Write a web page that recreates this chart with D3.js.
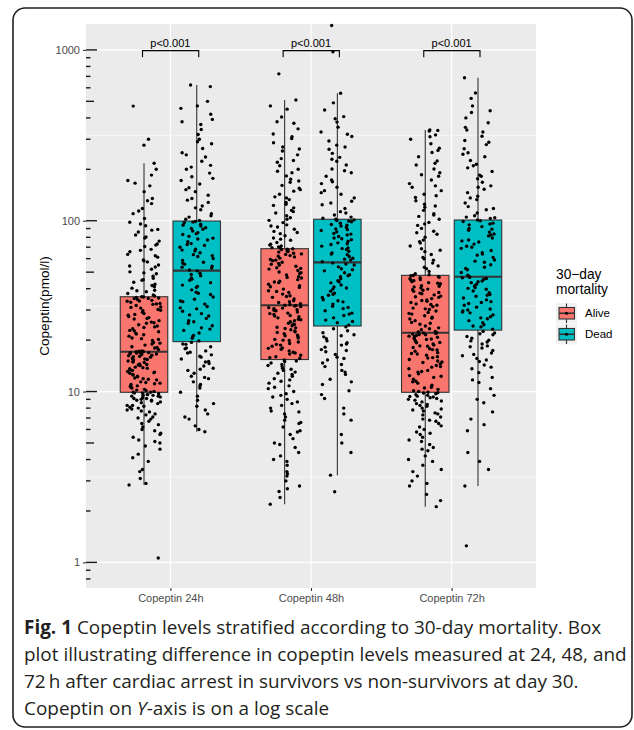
<!DOCTYPE html>
<html>
<head>
<meta charset="utf-8">
<script src="https://cdn.jsdelivr.net/npm/d3@7"></script>
<style>
  body { margin: 0; background: #fff; }
  svg { display: block; }
</style>
</head>
<body>
<svg id="chart" width="634" height="730"></svg>
<script>
const timepoints = ["Copeptin 24h", "Copeptin 48h", "Copeptin 72h"]
const groups = ["Alive", "Dead"]
const pLabels = ["p<0.001", "p<0.001", "p<0.001"]
const majorBreaks = [1, 10, 100, 1000]
const minorBreaks = [3.162, 31.62, 316.2]

// box stats (24h, 48h, 72h)
const aliveQ1 = [9.9, 15.4, 9.9]
const aliveMedian = [17.1, 32, 22.1]
const aliveQ3 = [35.9, 68.6, 47.9]
const aliveLow = [2.84, 2.19, 2.12]
const aliveHigh = [217, 509, 340]
const deadQ1 = [19.6, 24.2, 22.9]
const deadMedian = [51, 57, 47]
const deadQ3 = [99.6, 102, 101]
const deadLow = [5.82, 3.24, 2.8]
const deadHigh = [623, 558, 687]

// jittered observations, estimated from the dots
const alive24 = [1.06, 2.84, 2.9, 3.4, 3.5, 3.9, 4.1, 4.3, 4.8, 5.0, 5.1, 5.4, 5.7, 5.9, 6.0, 6.4, 6.5, 6.7, 7.0, 7.1, 7.3, 7.6, 7.7, 7.9, 8.0, 8.2, 8.3, 8.3, 8.6, 8.7, 8.8, 8.9, 9.0, 9.1, 9.1, 9.3, 9.4, 9.5, 9.5, 9.6, 9.7, 9.8, 9.8, 9.9,
  10.0, 10.2, 10.3, 10.5, 10.6, 10.8, 11.0, 11.1, 11.3, 11.4, 11.7, 11.9, 12.0, 12.2, 12.5, 12.6, 12.8, 13.0, 13.1, 13.4, 13.6, 13.7, 13.9, 14.2, 14.3, 14.5, 14.8, 14.9, 15.1, 15.3, 15.4, 15.6, 15.9, 16.0, 16.2, 16.3, 16.5, 16.7, 16.8, 16.9, 17.0, 17.1, 17.2, 17.3,
  17.6, 18.0, 18.3, 18.7, 19.0, 19.4, 19.9, 20.2, 20.6, 21.1, 21.5, 21.9, 22.4, 22.8, 23.3, 23.7, 24.2, 24.6, 25.1, 25.5, 26.0, 26.6, 27.1, 27.5, 28.0, 28.6, 29.1, 29.7, 30.2, 30.8, 31.3, 31.9, 32.4, 32.8, 33.3, 33.8, 34.2, 34.6, 35.0, 35.3, 35.6, 35.9, 36.3, 36.8,
  37.5, 38.4, 39.2, 40.3, 41.1, 42.5, 43.6, 44.8, 46.0, 47.3, 48.9, 50.2, 52.0, 53.6, 55.1, 57.4, 59.0, 61.2, 63.5, 65.8, 68.0, 70.6, 73.1, 76.0, 79.2, 82.5, 85.9, 89.0, 93.4, 98.0, 103, 110, 118, 126, 135, 148, 160, 172, 185, 200, 217, 277, 300, 469,
  3.1, 4.6, 5.2, 5.6, 6.2, 6.9, 7.4, 7.8, 8.1, 8.5, 8.9, 9.2, 9.4, 9.6, 9.9,
  10.1, 10.7, 11.2, 11.8, 12.3, 12.9, 13.3, 13.8, 14.4, 15.0, 15.5, 16.1, 16.6, 16.9, 17.1,
  18.1, 19.2, 20.4, 21.7, 22.6, 23.9, 25.3, 26.8, 28.3, 29.9, 31.1, 32.6, 33.9, 35.1, 35.8,
  38.9, 41.8, 45.2, 49.5, 54.3, 58.2, 62.4, 67.1, 72.0, 80.4, 88.1, 95.7, 114, 131, 166]
const dead24 = [5.82, 6.0, 6.3, 6.9, 7.4, 7.8, 8.2, 8.9, 9.4, 9.9, 10.5, 11.0, 11.4, 11.9, 12.3, 12.8, 13.3, 13.7, 14.1, 14.6, 15.0, 15.5, 15.9, 16.4, 16.8, 17.3, 17.8, 18.3, 18.9, 19.4,
  19.8, 20.5, 21.3, 22.0, 22.8, 23.6, 24.3, 25.1, 26.0, 26.8, 27.7, 28.6, 29.5, 30.5, 31.5, 32.5, 33.6, 34.7, 35.8, 37.0, 38.2, 39.4, 40.7, 42.0, 43.4, 44.8, 46.2, 47.7, 49.3, 50.9,
  51.5, 52.8, 54.2, 55.7, 57.1, 58.6, 60.1, 61.7, 63.3, 64.9, 66.5, 68.2, 70.0, 71.7, 73.5, 75.4, 77.2, 79.1, 81.0, 83.0, 85.0, 87.0, 89.1, 91.1, 93.2, 95.3, 97.4, 99.0, 100.5, 102,
  105, 110, 116, 122, 128, 135, 141, 148, 156, 164, 172, 181, 190, 200, 211, 223, 236, 250, 265, 282, 300, 320, 342, 366, 392, 420, 455, 500, 610, 623,
  7.1, 8.5, 10.8, 12.1, 13.5, 14.9, 16.1, 17.0, 18.0, 19.0,
  21.0, 23.2, 25.6, 28.1, 30.9, 33.9, 37.6, 41.3, 45.5, 48.5,
  53.5, 56.4, 62.5, 67.3, 72.6, 78.1, 84.0, 90.1, 94.2, 98.2,
  107, 119, 132, 152, 177, 206, 243, 290, 380, 470]
const alive48 = [2.19, 2.4, 2.6, 2.8, 3.0, 3.2, 3.4, 3.7, 3.9, 4.2, 4.4, 4.7, 5.0, 5.3, 5.6, 5.9, 6.2, 6.5, 6.8, 7.1, 7.4, 7.7, 8.0, 8.3, 8.7, 9.0, 9.3, 9.7, 10.0, 10.4, 10.8, 11.2, 11.5, 11.9, 12.3, 12.6, 13.0, 13.3, 13.7, 14.0, 14.4, 14.7, 15.0, 15.3,
  15.6, 16.0, 16.3, 16.6, 17.0, 17.3, 17.7, 18.0, 18.4, 18.7, 19.1, 19.5, 19.9, 20.2, 20.6, 21.0, 21.4, 21.8, 22.2, 22.6, 23.0, 23.4, 23.8, 24.3, 24.7, 25.1, 25.6, 26.0, 26.5, 27.0, 27.4, 27.9, 28.3, 28.8, 29.2, 29.7, 30.1, 30.6, 31.0, 31.4, 31.7, 32.0, 32.3, 32.7,
  33.2, 34.0, 34.8, 35.6, 36.4, 37.2, 38.0, 38.9, 39.8, 40.7, 41.6, 42.5, 43.4, 44.3, 45.2, 46.2, 47.1, 48.1, 49.1, 50.1, 51.1, 52.1, 53.1, 54.1, 55.1, 56.2, 57.2, 58.3, 59.3, 60.4, 61.4, 62.5, 63.5, 64.5, 65.5, 66.5, 67.4, 68.2, 68.9, 69.6, 70.3, 71.1, 72.0, 72.9,
  74.5, 76.8, 79.2, 81.6, 84.0, 86.6, 89.2, 91.9, 94.6, 97.5, 100.5, 104, 107, 111, 115, 119, 123, 128, 133, 138, 143, 149, 155, 161, 168, 175, 183, 191, 200, 210, 220, 231, 243, 256, 270, 286, 303, 322, 345, 372, 405, 450, 509, 724,
  2.7, 3.3, 4.0, 4.9, 5.8, 6.6, 7.6, 8.5, 9.5, 10.6, 11.7, 12.8, 13.5, 14.2, 15.1,
  15.8, 16.8, 17.9, 18.9, 20.0, 21.2, 22.4, 23.6, 24.9, 26.3, 27.7, 28.6, 29.9, 30.8, 31.9,
  33.6, 36.0, 38.5, 41.1, 43.8, 46.6, 49.6, 52.6, 55.6, 58.8, 61.9, 64.0, 66.0, 67.8, 68.5,
  78.0, 85.3, 93.2, 102, 113, 125, 136, 152, 171, 195, 225, 263, 310, 380, 470]
const dead48 = [2.59, 3.24, 4.4, 5.6, 6.8, 8.0, 9.1, 10.1, 11.0, 11.8, 12.6, 13.3, 14.0, 14.7, 15.3, 15.9, 16.5, 17.1, 17.6, 18.2, 18.7, 19.3, 19.8, 20.4, 20.9, 21.5, 22.1, 22.7, 23.3, 23.9,
  24.5, 25.3, 26.2, 27.0, 27.9, 28.8, 29.7, 30.6, 31.6, 32.5, 33.5, 34.5, 35.5, 36.6, 37.6, 38.7, 39.8, 41.0, 42.1, 43.3, 44.5, 45.8, 47.0, 48.3, 49.6, 50.9, 52.3, 53.7, 55.1, 56.5,
  57.5, 58.9, 60.3, 61.8, 63.3, 64.8, 66.3, 67.9, 69.4, 71.0, 72.6, 74.2, 75.9, 77.5, 79.2, 80.9, 82.6, 84.3, 86.1, 87.8, 89.6, 91.4, 93.2, 95.0, 96.8, 98.6, 100.3, 102, 103.5, 105,
  108, 113, 118, 124, 130, 136, 143, 150, 157, 165, 173, 182, 191, 201, 212, 223, 235, 248, 262, 277, 293, 311, 331, 353, 378, 407, 445, 558, 974, 1390,
  5.0, 7.4, 9.6, 11.4, 13.0, 14.4, 15.6, 17.4, 19.0, 21.2,
  25.7, 28.4, 31.1, 34.0, 37.1, 40.4, 43.9, 47.7, 51.6, 55.8,
  59.6, 63.9, 68.7, 73.4, 78.4, 83.5, 88.7, 94.1, 99.5, 101.2,
  111, 127, 146, 169, 196, 229, 270, 321, 395, 490]
const alive72 = [2.12, 2.5, 2.8, 3.0, 3.2, 3.5, 3.7, 4.0, 4.2, 4.5, 4.7, 4.9, 5.2, 5.4, 5.6, 5.8, 6.0, 6.2, 6.5, 6.7, 6.9, 7.1, 7.3, 7.5, 7.7, 7.9, 8.0, 8.2, 8.4, 8.5, 8.7, 8.8, 9.0, 9.1, 9.2, 9.3, 9.4, 9.5, 9.6, 9.7, 9.8, 9.9, 10.0, 10.1,
  10.3, 10.6, 10.9, 11.2, 11.5, 11.8, 12.1, 12.4, 12.7, 13.0, 13.3, 13.6, 13.9, 14.2, 14.5, 14.8, 15.1, 15.4, 15.7, 16.0, 16.3, 16.6, 16.9, 17.2, 17.5, 17.8, 18.1, 18.4, 18.7, 19.0, 19.3, 19.6, 19.9, 20.2, 20.5, 20.8, 21.1, 21.3, 21.5, 21.7, 21.9, 22.1, 22.3, 22.5,
  23.0, 23.6, 24.2, 24.8, 25.4, 26.0, 26.6, 27.2, 27.8, 28.4, 29.0, 29.6, 30.2, 30.8, 31.4, 32.0, 32.6, 33.2, 33.8, 34.4, 35.0, 35.6, 36.2, 36.8, 37.4, 38.0, 38.6, 39.2, 39.8, 40.4, 41.0, 41.6, 42.2, 42.8, 43.4, 44.0, 44.6, 45.2, 45.8, 46.4, 47.0, 47.6, 48.3, 49.0,
  50.5, 52.4, 54.4, 56.5, 58.7, 61.0, 63.4, 65.9, 68.5, 71.2, 74.0, 77.0, 80.1, 83.3, 86.7, 90.2, 93.9, 97.8, 102, 106, 110, 115, 120, 125, 131, 137, 143, 150, 157, 165, 173, 182, 191, 201, 212, 224, 237, 251, 266, 282, 300, 318, 335, 340,
  2.3, 2.9, 3.4, 3.9, 4.6, 5.1, 5.7, 6.3, 6.8, 7.4, 7.8, 8.3, 8.9, 9.35, 9.85,
  10.5, 11.4, 12.3, 13.1, 14.0, 14.9, 15.8, 16.7, 17.6, 18.5, 19.4, 20.3, 21.0, 21.6, 22.0,
  23.3, 25.1, 26.9, 28.7, 30.5, 32.3, 34.1, 35.9, 37.7, 39.5, 41.3, 43.1, 44.9, 46.7, 47.8,
  53.4, 59.8, 67.2, 75.5, 85.0, 95.8, 108, 122, 140, 160, 186, 217, 258, 310, 338]
const dead72 = [1.25, 2.8, 3.5, 4.4, 5.9, 6.4, 7.6, 8.6, 9.5, 10.4, 11.3, 12.1, 12.9, 13.6, 14.3, 15.0, 15.6, 16.2, 16.8, 17.4, 18.0, 18.5, 19.0, 19.5, 20.0, 20.5, 21.0, 21.5, 22.0, 22.5,
  23.2, 23.9, 24.6, 25.3, 26.0, 26.7, 27.4, 28.1, 28.9, 29.6, 30.4, 31.2, 32.0, 32.8, 33.6, 34.4, 35.3, 36.1, 37.0, 37.9, 38.8, 39.7, 40.6, 41.5, 42.5, 43.4, 44.4, 45.4, 46.3, 47.0,
  48.0, 49.8, 51.6, 53.4, 55.2, 57.1, 59.0, 60.9, 62.9, 64.9, 66.9, 68.9, 70.9, 73.0, 75.1, 77.2, 79.3, 81.5, 83.6, 85.8, 88.0, 90.2, 92.4, 94.6, 96.8, 99.0, 101, 103, 105, 107,
  111, 116, 121, 127, 133, 139, 146, 153, 160, 168, 176, 185, 194, 204, 214, 225, 237, 250, 264, 279, 295, 312, 331, 352, 375, 400, 430, 470, 520, 687,
  3.9, 6.9, 9.0, 11.7, 13.9, 15.3, 16.5, 18.3, 19.8, 21.8,
  24.2, 27.0, 29.2, 30.0, 33.2, 36.6, 40.2, 43.9, 45.9, 46.6,
  52.5, 58.0, 63.9, 69.9, 76.2, 82.5, 89.1, 95.7, 100, 104,
  118, 136, 157, 182, 210, 245, 288, 340, 440, 560]

const colors = { Alive: "#F8766D", Dead: "#00BFC4" }

const boxes = []
timepoints.forEach((t, i) => {
  boxes.push({ time: t, group: "Alive", q1: aliveQ1[i], med: aliveMedian[i], q3: aliveQ3[i], lo: aliveLow[i], hi: aliveHigh[i] })
  boxes.push({ time: t, group: "Dead", q1: deadQ1[i], med: deadMedian[i], q3: deadQ3[i], lo: deadLow[i], hi: deadHigh[i] })
})

const pointSets = [
  [timepoints[0], "Alive", alive24], [timepoints[0], "Dead", dead24],
  [timepoints[1], "Alive", alive48], [timepoints[1], "Dead", dead48],
  [timepoints[2], "Alive", alive72], [timepoints[2], "Dead", dead72]
]
// fixed pseudo jitter so the picture is the same each time
const jit = (i, k) => {
  const s = Math.sin((i + 1) * 12.9898 + k * 78.233) * 43758.5453
  return s - Math.floor(s) - 0.5
}
const points = []
pointSets.forEach(([t, g, vals], k) => {
  vals.forEach((v, i) => points.push({ time: t, group: g, value: v, j: jit(i, k) }))
})

const svg = d3.select("#chart")
const font = "'Liberation Sans', Arial, sans-serif"

// figure frame
svg.append("rect")
  .attr("x", 13).attr("y", 8)
  .attr("width", 619).attr("height", 719)
  .attr("rx", 12)
  .attr("fill", "none")
  .attr("stroke", "#231f20")
  .attr("stroke-width", 1.6)

const panel = { left: 86, top: 24, right: 536, bottom: 588 }

const x = d3.scalePoint()
  .domain(timepoints)
  .range([panel.left, panel.right])
  .padding(0.6)

const xDodge = d3.scaleBand()
  .domain(groups)
  .range([-0.375 * x.step(), 0.375 * x.step()])

const y = d3.scaleLog()
  .domain([0.708, 1418])
  .range([panel.bottom, panel.top])

const boxW = xDodge.bandwidth() * 0.9
const cx = d => x(d.time) + xDodge(d.group) + xDodge.bandwidth() / 2

svg.append("rect")
  .attr("x", panel.left).attr("y", panel.top)
  .attr("width", panel.right - panel.left)
  .attr("height", panel.bottom - panel.top)
  .attr("fill", "#EBEBEB")

const grid = svg.append("g")
grid.selectAll(".minor").data(minorBreaks).enter().append("line")
  .attr("x1", panel.left).attr("x2", panel.right)
  .attr("y1", d => y(d)).attr("y2", d => y(d))
  .attr("stroke", "#fff").attr("stroke-width", 0.6)
grid.selectAll(".major").data(majorBreaks).enter().append("line")
  .attr("x1", panel.left).attr("x2", panel.right)
  .attr("y1", d => y(d)).attr("y2", d => y(d))
  .attr("stroke", "#fff").attr("stroke-width", 1.2)
grid.selectAll(".vert").data(timepoints).enter().append("line")
  .attr("x1", d => x(d)).attr("x2", d => x(d))
  .attr("y1", panel.top).attr("y2", panel.bottom)
  .attr("stroke", "#fff").attr("stroke-width", 1.2)

// boxplots
const bx = svg.append("g").selectAll("g").data(boxes).enter().append("g")
bx.append("line")
  .attr("x1", cx).attr("x2", cx)
  .attr("y1", d => y(d.lo)).attr("y2", d => y(d.hi))
  .attr("stroke", "#333").attr("stroke-width", 1.1)
bx.append("rect")
  .attr("x", d => cx(d) - boxW / 2)
  .attr("y", d => y(d.q3))
  .attr("width", boxW)
  .attr("height", d => y(d.q1) - y(d.q3))
  .attr("fill", d => colors[d.group])
  .attr("stroke", "#333").attr("stroke-width", 1.1)
bx.append("line")
  .attr("x1", d => cx(d) - boxW / 2).attr("x2", d => cx(d) + boxW / 2)
  .attr("y1", d => y(d.med)).attr("y2", d => y(d.med))
  .attr("stroke", "#333").attr("stroke-width", 2.2)

// jittered points
svg.append("g").selectAll("circle").data(points).enter().append("circle")
  .attr("cx", d => cx(d) + d.j * xDodge.bandwidth() * 0.64)
  .attr("cy", d => y(d.value))
  .attr("r", 1.7)
  .attr("fill", "#000")

// log ticks inside the left edge
const logTicks = y.ticks().filter(v => v >= y.domain()[0] && v <= y.domain()[1])
svg.append("g").selectAll("line").data(logTicks).enter().append("line")
  .attr("x1", panel.left)
  .attr("x2", v => {
    const lead = Math.round(v / Math.pow(10, Math.floor(Math.log10(v) + 1e-9)))
    return panel.left + (lead === 1 ? 11 : lead === 5 ? 8 : 4.5)
  })
  .attr("y1", v => y(v)).attr("y2", v => y(v))
  .attr("stroke", "#1a1a1a").attr("stroke-width", 1.4)

// axes
const yAxis = svg.append("g")
  .attr("transform", "translate(" + panel.left + ",0)")
  .call(d3.axisLeft(y).tickValues(majorBreaks).tickFormat(d3.format("d")).tickSize(3).tickPadding(3))
yAxis.select(".domain").remove()
yAxis.selectAll("line").attr("stroke", "#333").attr("stroke-width", 1.1)
yAxis.selectAll("text").attr("fill", "#4D4D4D").style("font", "11px " + font)

const xAxis = svg.append("g")
  .attr("transform", "translate(0," + panel.bottom + ")")
  .call(d3.axisBottom(x).tickSize(3).tickPadding(3))
xAxis.select(".domain").remove()
xAxis.selectAll("line").attr("stroke", "#333").attr("stroke-width", 1.1)
xAxis.selectAll("text").attr("fill", "#4D4D4D").style("font", "11px " + font)

svg.append("text")
  .attr("transform", "translate(49," + (panel.top + panel.bottom) / 2 + ") rotate(-90)")
  .attr("text-anchor", "middle")
  .style("font", "13.6px " + font)
  .attr("fill", "#000")
  .text("Copeptin(pmol/l)")

// significance brackets
const sig = svg.append("g").selectAll("g").data(timepoints).enter().append("g")
const bracketY = y(1000) + 0.7
sig.append("path")
  .attr("d", t => {
    const a = cx({ time: t, group: "Alive" }) - 1.5
    const b = cx({ time: t, group: "Dead" }) + 2
    return "M" + a + "," + (bracketY + 6.6) + "V" + bracketY + "H" + b + "V" + (bracketY + 6.6)
  })
  .attr("fill", "none").attr("stroke", "#000").attr("stroke-width", 1.1)
sig.append("text")
  .attr("x", t => x(t))
  .attr("y", bracketY - 4)
  .attr("text-anchor", "middle")
  .style("font", "11px " + font)
  .text((t, i) => pLabels[i])

// legend
const legend = svg.append("g").attr("transform", "translate(556,0)")
legend.append("text")
  .style("font", "13.75px " + font)
  .selectAll("tspan").data(["30\u2212day", "mortality"]).enter().append("tspan")
  .attr("x", 0)
  .attr("y", (d, i) => 279 + i * 14.5)
  .text(d => d)
const key = legend.selectAll(".key").data(groups).enter().append("g")
  .attr("transform", (d, i) => "translate(0," + (303 + i * 21) + ")")
key.append("rect").attr("width", 21).attr("height", 20.5).attr("fill", "#F2F2F2")
key.append("line").attr("x1", 10.5).attr("x2", 10.5).attr("y1", 0.5).attr("y2", 20)
  .attr("stroke", "#333").attr("stroke-width", 1.1)
key.append("rect").attr("x", 3).attr("y", 4.5).attr("width", 15.5).attr("height", 11.5)
  .attr("fill", d => colors[d]).attr("stroke", "#333").attr("stroke-width", 1.1)
key.append("line").attr("x1", 3).attr("x2", 18.5).attr("y1", 10.25).attr("y2", 10.25)
  .attr("stroke", "#333").attr("stroke-width", 1.6)
key.append("circle").attr("cx", 10.5).attr("cy", 10.25).attr("r", 1.6).attr("fill", "#000")
key.append("text")
  .attr("x", 29).attr("y", 14)
  .style("font", "11.5px " + font)
  .text(d => d)

// caption
const capFont = "'Open Sans', 'Noto Sans', sans-serif"
const caption = svg.append("g").attr("fill", "#231f20").style("font-family", capFont)
const lines = [
  [["Fig. 1", "bold", "normal"], [" Copeptin levels stratified according to 30-day mortality. Box", "normal", "normal"]],
  [["plot illustrating difference in copeptin levels measured at 24, 48, and", "normal", "normal"]],
  [["72\u2009h after cardiac arrest in survivors vs non-survivors at day 30.", "normal", "normal"]],
  [["Copeptin on ", "normal", "normal"], ["Y", "normal", "italic"], ["-axis is on a log scale", "normal", "normal"]]
]
const capText = caption.selectAll("text").data(lines).enter().append("text")
  .attr("x", 24)
  .attr("y", (d, i) => 634 + i * 27)
capText.selectAll("tspan").data(d => d).enter().append("tspan")
  .style("font-weight", d => d[1])
  .style("font-style", d => d[2])
  .text(d => d[0])
// size the caption so the longest line fills the frame width
capText.style("font-size", "18px")
const w = capText.nodes()[1].getComputedTextLength()
capText.style("font-size", (18 * 603 / w) + "px")
</script>
</body>
</html>
